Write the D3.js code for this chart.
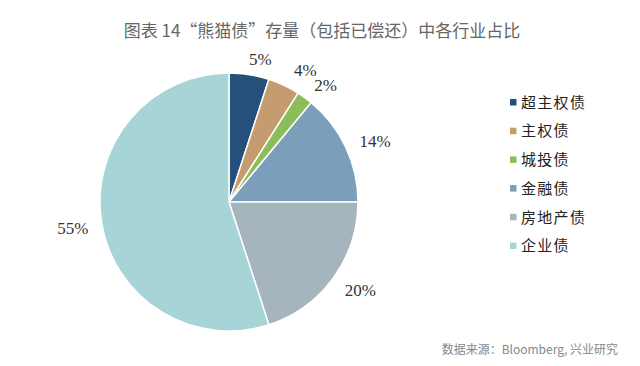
<!DOCTYPE html>
<html>
<head>
<meta charset="utf-8">
<script src="https://cdn.jsdelivr.net/npm/d3@7"></script>
<style>
  body { margin: 0; background: #fff; }
  svg { display: block; }
</style>
</head>
<body>
<div id="chart"></div>
<script>
// data
const categories = ["超主权债", "主权债", "城投债", "金融债", "房地产债", "企业债"];
const values = [5, 4, 2, 14, 20, 55];
const labels = ["5%", "4%", "2%", "14%", "20%", "55%"];
const colors = ["#24507b", "#c49c6f", "#8cbd5b", "#7b9fbb", "#a6b4bd", "#a7d4d7"];

const width = 640, height = 366;
const cx = 229, cy = 202, radius = 129;

// small nudges so labels sit like the original (overlap avoidance)
const labelNudge = [[7, 11], [10, 9], [5, 9], [5, 5], [5, -4], [-2, 2]];

const svg = d3.select("#chart").append("svg")
    .attr("width", width)
    .attr("height", height);

// title
svg.append("text")
    .attr("x", 322)
    .attr("y", 37)
    .attr("text-anchor", "middle")
    .attr("font-family", "Noto Sans CJK SC")
    .attr("font-size", 17)
    .attr("fill", "#666")
    .text("图表 14“熊猫债”存量（包括已偿还）中各行业占比");

const pie = d3.pie().sort(null).value(d => d);
const arcs = pie(values);

const arc = d3.arc().innerRadius(0).outerRadius(radius);
const labelArc = d3.arc().innerRadius(156).outerRadius(156);

const g = svg.append("g")
    .attr("transform", "translate(" + cx + "," + cy + ")");

g.selectAll(".slice")
  .data(arcs)
  .enter().append("path")
    .attr("class", "slice")
    .attr("d", arc)
    .attr("fill", (d, i) => colors[i])
    .attr("stroke", "#fff")
    .attr("stroke-width", 1.5);

g.selectAll(".lbl")
  .data(arcs)
  .enter().append("text")
    .attr("class", "lbl")
    .attr("transform", (d, i) => {
      const c = labelArc.centroid(d);
      return "translate(" + (c[0] + labelNudge[i][0]) + "," + (c[1] + labelNudge[i][1]) + ")";
    })
    .attr("text-anchor", "middle")
    .attr("dy", "0.35em")
    .attr("font-family", "Liberation Serif")
    .attr("font-size", 17)
    .attr("fill", "#333")
    .text((d, i) => labels[i]);

// legend
const legend = svg.append("g")
    .attr("transform", "translate(510,102)");

const item = legend.selectAll(".item")
  .data(categories)
  .enter().append("g")
    .attr("class", "item")
    .attr("transform", (d, i) => "translate(0," + i * 28.7 + ")");

item.append("rect")
    .attr("x", 0)
    .attr("y", -3)
    .attr("width", 6.5)
    .attr("height", 6.5)
    .attr("fill", (d, i) => colors[i]);

item.append("text")
    .attr("x", 11)
    .attr("dy", "0.38em")
    .attr("font-family", "Noto Sans CJK SC")
    .attr("font-size", 15)
    .attr("letter-spacing", 1.3)
    .attr("fill", "#222")
    .text(d => d);

// source
svg.append("text")
    .attr("x", 618)
    .attr("y", 354)
    .attr("text-anchor", "end")
    .attr("font-family", "Noto Sans CJK SC")
    .attr("font-size", 12)
    .attr("fill", "#888")
    .text("数据来源：Bloomberg, 兴业研究");
</script>
</body>
</html>
